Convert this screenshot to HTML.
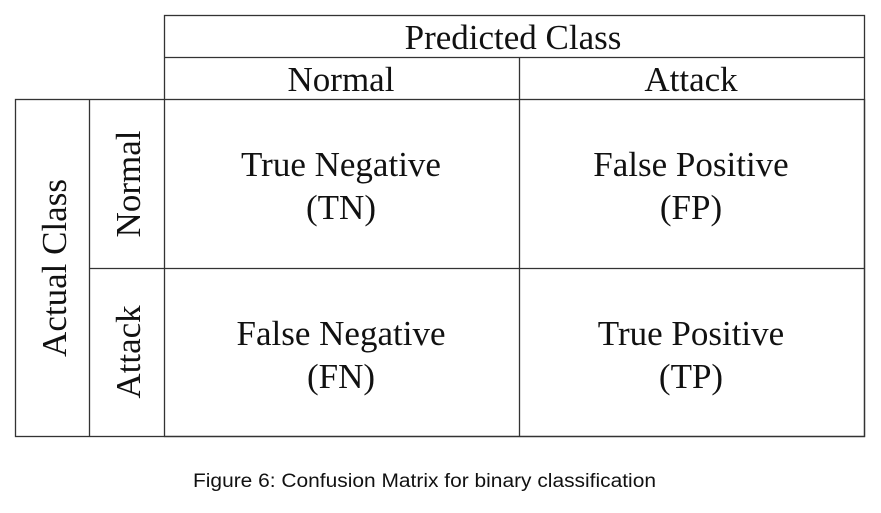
<!DOCTYPE html>
<html><head><meta charset="utf-8"><style>
html,body{margin:0;padding:0;background:#fff;width:881px;height:513px;overflow:hidden}
svg{display:block}
.s{font-family:"Liberation Serif",serif;font-size:35px;fill:#111}
.c{font-family:"Liberation Sans",sans-serif;font-size:19px;fill:#111}
</style></head><body>
<svg width="881" height="513">
<g stroke="#333" stroke-width="1.3" fill="none">
<rect x="164.5" y="15.5" width="700" height="421"/>
<rect x="15.5" y="99.5" width="849" height="337"/>
<line x1="164.5" y1="57.5" x2="864.5" y2="57.5"/>
<line x1="89.5" y1="99.5" x2="89.5" y2="436.5"/>
<line x1="519.5" y1="57.5" x2="519.5" y2="436.5"/>
<line x1="89.5" y1="268.5" x2="864.5" y2="268.5"/>
</g>
<text class="s" x="513" y="49" text-anchor="middle">Predicted Class</text>
<text class="s" x="341" y="91" text-anchor="middle">Normal</text>
<text class="s" x="691" y="91" text-anchor="middle">Attack</text>
<text class="s" transform="translate(66,268) rotate(-90)" text-anchor="middle">Actual Class</text>
<text class="s" transform="translate(140,184) rotate(-90)" text-anchor="middle">Normal</text>
<text class="s" transform="translate(140,352) rotate(-90)" text-anchor="middle">Attack</text>
<g><text class="s" x="341" y="176" text-anchor="middle">True Negative</text><text class="s" x="341" y="219" text-anchor="middle">(TN)</text></g>
<g><text class="s" x="691" y="176" text-anchor="middle">False Positive</text><text class="s" x="691" y="219" text-anchor="middle">(FP)</text></g>
<g><text class="s" x="341" y="345" text-anchor="middle">False Negative</text><text class="s" x="341" y="388" text-anchor="middle">(FN)</text></g>
<g><text class="s" x="691" y="345" text-anchor="middle">True Positive</text><text class="s" x="691" y="388" text-anchor="middle">(TP)</text></g>
<text class="c" x="193" y="487" textLength="463" lengthAdjust="spacingAndGlyphs">Figure 6: Confusion Matrix for binary classification</text>
</svg>
</body></html>
